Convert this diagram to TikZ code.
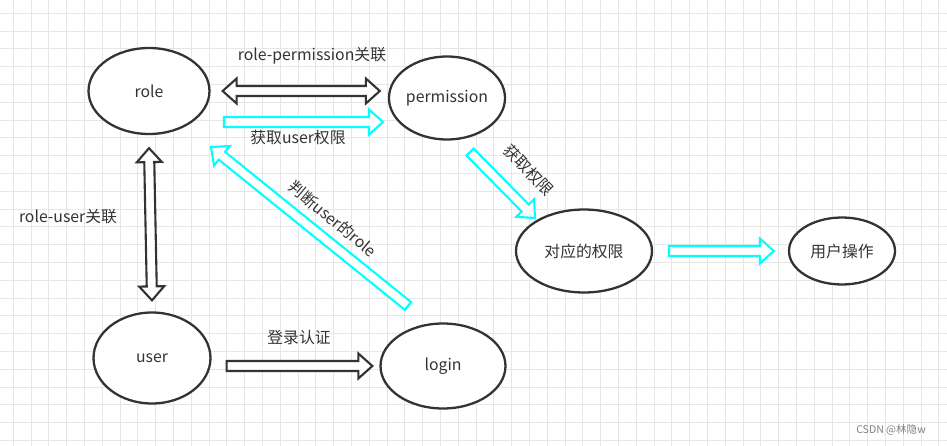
\documentclass[tikz,border=0pt]{standalone}
\usepackage{fontspec}
\setmainfont{Noto Sans CJK SC}
\usetikzlibrary{calc,shapes.geometric}
\definecolor{linegray}{HTML}{333333}
\definecolor{textgray}{HTML}{333333}
\definecolor{arrowcyan}{HTML}{00FFFF}
\definecolor{gridgray}{HTML}{E6E6E6}
\newcommand{\shaftw}{0.1cm}
\newcommand{\headw}{0.25cm}
\newcommand{\headl}{0.28cm}
% hollow block arrow from #2 to #3
\newcommand{\blockarrow}[3][]{%
  \coordinate (nk) at ($(#3)!\headl!(#2)$);
  \draw[#1] ($(#2)!\shaftw!90:(#3)$) -- ($(nk)!\shaftw!90:(#3)$) -- ($(nk)!\headw!90:(#3)$) -- (#3)
    -- ($(nk)!\headw!-90:(#3)$) -- ($(nk)!\shaftw!-90:(#3)$) -- ($(#2)!\shaftw!-90:(#3)$) -- cycle;}
% same, with a head at both ends
\newcommand{\blockdarrow}[3][]{%
  \coordinate (nka) at ($(#2)!\headl!(#3)$);
  \coordinate (nkb) at ($(#3)!\headl!(#2)$);
  \draw[#1] (#2) -- ($(nka)!\headw!90:(#3)$) -- ($(nka)!\shaftw!90:(#3)$) -- ($(nkb)!\shaftw!90:(#3)$)
    -- ($(nkb)!\headw!90:(#3)$) -- (#3) -- ($(nkb)!\headw!-90:(#3)$) -- ($(nkb)!\shaftw!-90:(#3)$)
    -- ($(nka)!\shaftw!-90:(#3)$) -- ($(nka)!\headw!-90:(#3)$) -- cycle;}

\begin{document}
\begin{tikzpicture}[x=0.02cm,y=-0.02cm,
  ell/.style={ellipse,draw=linegray,line width=1.3pt,fill=white,inner sep=0pt,
    text=textgray,font=\fontsize{9}{11}\selectfont},
  lbl/.style={text=textgray,inner sep=1pt,font=\fontsize{9}{11}\selectfont},
  blackarrow/.style={draw=linegray,line width=1.2pt,fill=white},
  cyanarrow/.style={draw=arrowcyan,line width=1.2pt,fill=white},
  gridline/.style={draw=gridgray,line width=0.5pt}]
\useasboundingbox (0,0) rectangle (947,446);
\fill[white] (0,0) rectangle (947,446);
\foreach \i in {0,...,52}
	\draw[gridline] ({13.3+17.8*\i},0) -- ({13.3+17.8*\i},446);
\foreach \j in {0,...,24}
	\draw[gridline] (0,{13.3+17.8*\j}) -- (947,{13.3+17.8*\j});

\node[ell,minimum width=2.42cm,minimum height=1.72cm] (role) at (149,91) {role};
\node[ell,minimum width=2.30cm,minimum height=1.66cm] (perm) at (447,98) {permission};
\node[ell,minimum width=2.72cm,minimum height=1.66cm] (right) at (584,251) {对应的权限};
\node[ell,minimum width=2.12cm,minimum height=1.34cm] (oper) at (842,251) {用户操作};
\node[ell,minimum width=2.34cm,minimum height=1.82cm] (user) at (152,358) {user};
\node[ell,minimum width=2.50cm,minimum height=1.70cm] (login) at (443,366) {login};

\coordinate (rp1) at ($(role.east)+(12,0)$);
\coordinate (rp2) at ($(role.east -| perm.west)+(-8,0)$);
\coordinate (gp1) at (224,122);
\coordinate (gp2) at (383,122);
\coordinate (ru1) at ($(role.south)+(0,13)$);
\coordinate (ru2) at ($(user.north)+(0,-11)$);
\coordinate (lr1) at (408,306);
\coordinate (lr2) at (211,147);
\coordinate (pr1) at (470,152);
\coordinate (pr2) at (535,218);
\coordinate (ro1) at ($(right.east)+(16,0)$);
\coordinate (ro2) at ($(right.east -| oper.west)+(-14,0)$);
\coordinate (ul1) at ($(user.east |- login.center)+(15,0)$);
\coordinate (ul2) at ($(login.west)+(-7,0)$);

\blockdarrow[blackarrow]{rp1}{rp2}
\blockarrow[cyanarrow]{gp1}{gp2}
\blockdarrow[blackarrow]{ru1}{ru2}
\blockarrow[cyanarrow]{lr1}{lr2}
\blockarrow[cyanarrow]{pr1}{pr2}
\blockarrow[cyanarrow]{ro1}{ro2}
\blockarrow[blackarrow]{ul1}{ul2}

\node[lbl] (rplbl) at (312,56) {role-permission关联};
\node[lbl] (gplbl) at (298,138) {获取user权限};
\node[lbl] (rulbl) at (68,217) {role-user关联};
\node[lbl,rotate=-40] (lrlbl) at (333,219) {判断user的role};
\node[lbl,rotate=-46] (prlbl) at (529,170) {获取权限};
\node[lbl] (ullbl) at (299,338) {登录认证};
\node[text=gray,inner sep=0pt,font=\fontsize{6}{7}\selectfont] (mark) at (891,430) {CSDN @林隐w};
\end{tikzpicture}
\end{document}
